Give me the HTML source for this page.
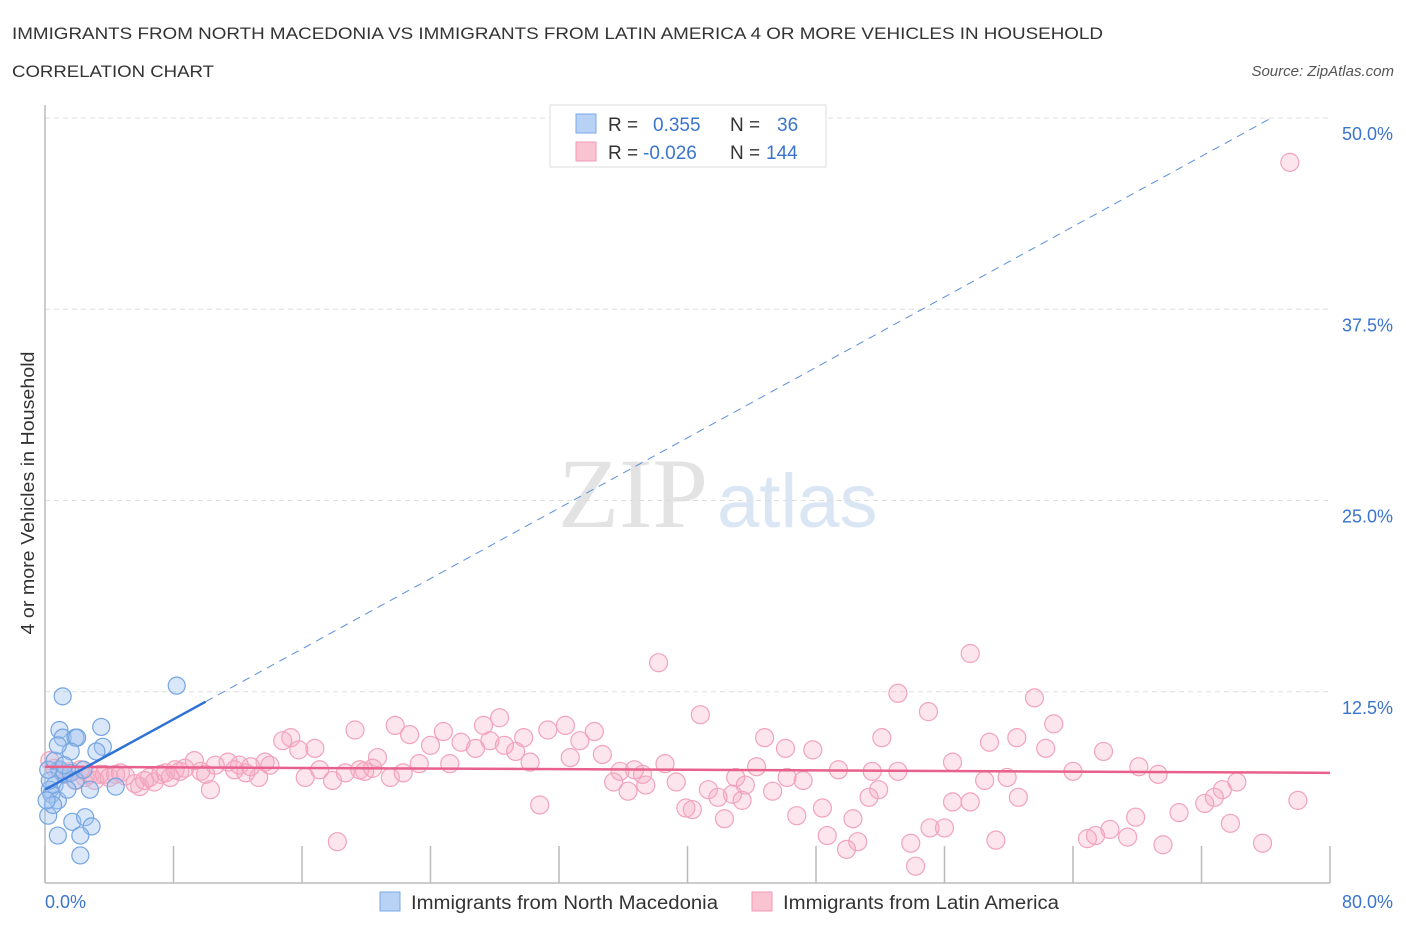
<!DOCTYPE html>
<html><head><meta charset="utf-8"><style>
body{margin:0;background:#fff;font-family:"Liberation Sans",sans-serif}
svg{display:block}
</style></head><body>
<svg width="1406" height="930" xmlns="http://www.w3.org/2000/svg" id="chart">
<text x="12" y="39" font-size="17" fill="#333" textLength="1091" lengthAdjust="spacingAndGlyphs">IMMIGRANTS FROM NORTH MACEDONIA VS IMMIGRANTS FROM LATIN AMERICA 4 OR MORE VEHICLES IN HOUSEHOLD</text>
<text x="12" y="77" font-size="17" fill="#333" textLength="202" lengthAdjust="spacingAndGlyphs">CORRELATION CHART</text>
<text x="1394" y="76" font-size="15" fill="#555" font-style="italic" text-anchor="end">Source: ZipAtlas.com</text>
<g>
<text x="558" y="527" font-family="Liberation Serif,serif" font-size="100" fill="#e3e3e3">ZIP</text>
<text x="717" y="527" font-size="76" fill="#dbe6f5">atlas</text>
</g>
<g id="grid"></g>
<g id="axes"></g>
<g id="marks"></g>
<text transform="translate(34,493) rotate(-90)" font-size="18" fill="#333" text-anchor="middle" textLength="283" lengthAdjust="spacingAndGlyphs">4 or more Vehicles in Household</text>
<g>
<rect x="550" y="105" width="276" height="62" fill="#fff" stroke="#ddd"/>
<rect x="576" y="114" width="20" height="19" fill="#b7d2f5" stroke="#7aa8e6"/>
<rect x="576" y="142" width="20" height="19" fill="#fac3d2" stroke="#f09ab5"/>
<text x="608" y="131" font-size="19" fill="#333">R =</text>
<text x="653" y="131" font-size="19" fill="#3a74cc">0.355</text>
<text x="730" y="131" font-size="19" fill="#333">N =</text>
<text x="777" y="131" font-size="19" fill="#3a74cc">36</text>
<text x="608" y="159" font-size="19" fill="#333">R =</text>
<text x="643" y="159" font-size="19" fill="#3a74cc">-0.026</text>
<text x="730" y="159" font-size="19" fill="#333">N =</text>
<text x="766" y="159" font-size="19" fill="#3a74cc">144</text>
</g>
<g>
<rect x="380" y="892" width="20" height="19" fill="#b7d2f5" stroke="#7aa8e6"/>
<text x="411" y="909" font-size="19" fill="#333" textLength="307" lengthAdjust="spacingAndGlyphs">Immigrants from North Macedonia</text>
<rect x="752" y="892" width="20" height="19" fill="#fac3d2" stroke="#f09ab5"/>
<text x="783" y="909" font-size="19" fill="#333" textLength="276" lengthAdjust="spacingAndGlyphs">Immigrants from Latin America</text>
</g>
</svg>
<script>
const yTicks=[12.5,25,37.5,50];
const yTickLabels=["12.5%","25.0%","37.5%","50.0%"];
const xTicks=[0,8,16,24,32,40,48,56,64,72,80];
const xEndLabels=["0.0%","80.0%"];
const blueX=[1.1,8.2,0.9,1.1,1.9,2.0,3.5,3.6,3.2,1.6,4.4,0.9,1.2,1.6,0.6,0.3,0.4,0.8,0.2,1.7,2.5,2.9,2.2,0.8,2.2,0.3,0.2,0.6,1.2,1.9,1.4,2.8,0.5,0.1,2.4,0.8];
const blueY=[12.2,12.9,10.0,9.5,9.5,9.5,10.2,8.9,8.6,8.6,6.3,7.4,7.1,7.2,6.4,6.1,5.8,5.4,4.4,4.0,4.3,3.7,3.1,3.1,1.8,6.7,7.4,8.0,7.7,6.7,6.1,6.1,5.1,5.4,7.4,9.0];
const pinkX=[77.5,38.2,57.6,53.1,61.6,55.0,40.8,28.3,62.8,19.3,21.8,27.3,31.3,32.4,34.2,22.7,24.8,15.3,14.8,52.1,44.8,60.5,58.8,29.8,25.9,24.0,33.3,27.7,16.8,15.8,28.6,26.8,29.3,62.3,65.9,46.1,47.8,34.7,20.7,32.7,38.6,9.3,11.4,13.7,12.1,23.3,25.2,30.2,56.5,68.1,44.3,49.4,51.5,53.1,64.0,69.3,58.5,59.9,43.0,46.2,47.2,35.8,36.7,37.2,37.4,39.3,35.4,36.3,43.6,41.3,42.8,45.3,41.9,43.4,74.2,73.3,72.8,72.2,78.0,51.9,51.3,56.5,57.6,60.6,30.8,39.9,40.3,48.4,46.8,42.3,50.3,67.9,70.6,73.8,55.1,56.0,48.7,66.3,64.9,65.4,59.2,67.4,50.6,53.9,69.6,75.8,49.9,54.2,18.2,
0.3,0.6,0.9,1.2,1.6,1.9,2.2,2.5,2.8,3.1,3.4,3.7,4.0,4.4,4.7,5.0,5.6,5.9,6.2,6.5,6.8,7.2,7.5,7.8,8.1,8.4,8.7,9.7,10.0,10.3,10.6,11.8,12.5,13.3,12.8,14.0,16.2,17.1,17.9,18.7,19.6,19.9,20.4,21.5,22.3];
const pinkY=[47.1,14.4,15.0,12.4,12.1,11.2,11.0,10.8,10.4,10.0,10.3,10.3,10.0,10.3,9.9,9.7,9.9,9.5,9.3,9.5,9.5,9.5,9.2,9.5,9.2,9.0,9.3,9.3,8.8,8.7,9.0,8.8,8.6,8.8,8.6,8.8,8.7,8.4,8.2,8.2,7.8,8.0,7.9,7.9,7.7,7.8,7.8,7.9,7.9,7.6,7.6,7.4,7.3,7.3,7.3,7.1,6.7,6.9,6.9,6.9,6.7,7.3,7.4,7.1,6.4,6.6,6.6,6.0,6.4,6.1,5.8,6.0,5.6,5.4,6.6,6.1,5.6,5.2,5.4,6.1,5.6,5.3,5.3,5.6,5.1,4.9,4.8,4.9,4.4,4.2,4.2,4.3,4.6,3.9,3.6,3.6,3.1,3.5,2.9,3.1,2.8,3.0,2.7,2.6,2.5,2.6,2.2,1.1,2.7,
8.0,7.5,7.4,7.1,7.3,6.7,7.4,6.9,7.1,6.7,7.1,7.1,6.9,7.1,7.2,7.0,6.5,6.3,6.7,6.9,6.6,7.1,7.2,6.9,7.4,7.3,7.5,7.3,7.1,6.1,7.7,7.4,7.2,6.9,7.6,7.7,6.9,7.4,6.7,7.2,7.4,7.3,7.5,6.9,7.2];
const blueTrend=[6.1,0.575];
const pinkTrend=[7.6,-0.005];
const NS="http://www.w3.org/2000/svg";
const X0=45,X1=1330,Y0=883,Y1=118;
const sx=v=>X0+(X1-X0)*v/80;
const sy=v=>Y0-(Y0-Y1)*v/50;
function mk(tag,attrs,parent){const e=document.createElementNS(NS,tag);for(const k in attrs)e.setAttribute(k,attrs[k]);document.getElementById(parent).appendChild(e);return e;}
yTicks.forEach((t,i)=>{
 const g=mk('line',{x1:X0,x2:X1,y1:sy(t),y2:sy(t),stroke:'#ddd','stroke-dasharray':'5,4'},'grid');
 
 
 const l=mk('text',{x:1393,y:sy(t)+22,'font-size':18,fill:'#3a74cc','text-anchor':'end'},'grid');
 l.textContent=yTickLabels[i];
 
 
});
const ya=mk('line',{x1:X0,x2:X0,y1:105,y2:Y0,stroke:'#bbb','stroke-width':1.5},'axes');


const xa=mk('line',{x1:X0,x2:X1,y1:Y0,y2:Y0,stroke:'#bbb','stroke-width':1.5},'axes');


xTicks.forEach(t=>{const k=mk('line',{x1:sx(t),x2:sx(t),y1:846,y2:Y0,stroke:'#bbb','stroke-width':1.5},'axes');
 
 });
const xl0=mk('text',{x:45,y:908,'font-size':18,fill:'#3a74cc'},'axes');xl0.textContent=xEndLabels[0];


const xl1=mk('text',{x:1393,y:908,'font-size':18,fill:'#3a74cc','text-anchor':'end'},'axes');xl1.textContent=xEndLabels[1];


pinkX.forEach((x,i)=>{const c=mk('circle',{cx:sx(x),cy:sy(pinkY[i]),r:9,fill:'rgba(246,170,195,0.3)',stroke:'#f2a3bc','stroke-width':1.2},'marks');
 
 });
blueX.forEach((x,i)=>{const c=mk('circle',{cx:sx(x),cy:sy(blueY[i]),r:8.5,fill:'rgba(160,195,240,0.4)',stroke:'#74a5e2','stroke-width':1.2},'marks');
 
 });
const pt=mk('line',{x1:sx(0),y1:sy(pinkTrend[0]),x2:sx(80),y2:sy(pinkTrend[0]+pinkTrend[1]*80),stroke:'#e8618c','stroke-width':2.5},'marks');


const bt=mk('line',{x1:sx(0),y1:sy(blueTrend[0]),x2:sx(10),y2:sy(blueTrend[0]+blueTrend[1]*10),stroke:'#2f72d6','stroke-width':2.5},'marks');


const xe=(50-blueTrend[0])/blueTrend[1];
const bd=mk('line',{x1:sx(10),y1:sy(blueTrend[0]+blueTrend[1]*10),x2:sx(xe),y2:sy(50),stroke:'#5b8ede','stroke-width':1,'stroke-dasharray':'8,6'},'marks');


</script>
</body></html>
